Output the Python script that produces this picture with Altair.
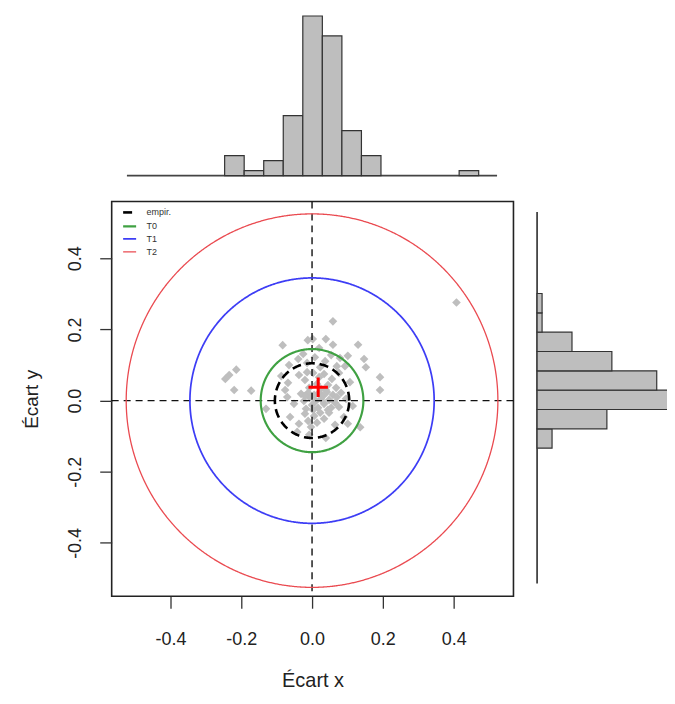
import altair as alt
import pandas as pd

FONT = "Liberation Sans"

# ---- scatter points (Écart x, Écart y) ----
pts_x = [0.408, 0.059, -0.083, 0.039, 0.059, 0.130, 0.002, -0.012, 0.020, 0.101,
         0.147, 0.152, -0.025, -0.214, -0.245, -0.234, -0.220, -0.172, -0.087, -0.076,
         0.192, 0.192, -0.130, 0.101, 0.136, 0.039, -0.008, -0.042,
         -0.065, -0.039, -0.014, 0.008, 0.023, 0.037, 0.054, 0.070, 0.079, 0.093,
         -0.068, -0.037, -0.020, -0.008, 0.003, 0.014, 0.020, -0.014, 0.025, 0.034,
         0.045, 0.056, 0.068, 0.076, 0.039, 0.107,
         -0.070, -0.051, -0.031, -0.023, -0.017, -0.011, -0.006, 0.000, 0.006, 0.011,
         0.017, 0.020, 0.025, -0.020, 0.003, 0.031, 0.034, 0.042, 0.048, 0.054,
         0.059, 0.065, 0.070, 0.076, 0.082, 0.045, 0.096, 0.115,
         -0.062, -0.037, -0.020, -0.011, -0.003, 0.006, 0.014, 0.023, 0.034, 0.048,
         0.065, 0.090]
pts_y = [0.276, 0.223, 0.156, 0.173, 0.157, 0.157, 0.173, 0.170, 0.148, 0.126,
         0.117, 0.094, 0.131, 0.087, 0.061, 0.072, 0.030, 0.028, 0.069, 0.030,
         0.066, 0.030, -0.023, -0.065, -0.075, -0.105, -0.096, -0.088,
         0.100, 0.117, 0.106, 0.122, 0.094, 0.111, 0.128, 0.097, 0.120, 0.097,
         0.050, 0.072, 0.058, 0.036, 0.078, 0.047, 0.066, 0.080, 0.033, 0.075,
         0.044, 0.061, 0.036, 0.078, 0.030, 0.052,
         0.010, -0.009, 0.019, -0.001, -0.023, 0.022, 0.008, -0.012, 0.016, -0.001,
         -0.020, 0.022, 0.005, 0.013, -0.026, 0.013, -0.009, 0.024, 0.002, -0.020,
         0.016, -0.006, 0.010, -0.018, 0.022, -0.026, 0.005, -0.015,
         -0.046, -0.065, -0.037, -0.057, -0.074, -0.043, -0.062, -0.034, -0.051, -0.034,
         -0.068, -0.046]

# ---- reference circles ----
circ_labels = ["empir.", "T0", "T1", "T2"]
circ_radius = [0.105, 0.145, 0.345, 0.525]
circ_colors = ["#000000", "#3FA142", "#3D3DF5", "#EA4A50"]
circ_dash = [[9, 5], [1, 0], [1, 0], [1, 0]]
circ_width = [2.6, 1.3, 1.3, 1.3]

# ---- marginal histograms ----
bin_w = 0.05
hx_start = [-0.25, -0.20, -0.15, -0.10, -0.05, 0.00, 0.05, 0.10, 0.35]
hx_count = [4, 1, 3, 12, 32, 28, 9, 4, 1]
hx_base = [-0.50, 0.447]
hy_start = [-0.10, -0.05, 0.00, 0.05, 0.10, 0.15, 0.20, 0.25]
hy_count = [3, 14, 29, 24, 15, 7, 1, 1]
hy_base = [-0.45, 0.511]

ticks = [-0.4, -0.2, 0.0, 0.2, 0.4]

# ---------------- tables ----------------
pts_df = pd.DataFrame({"x": pts_x, "y": pts_y})
circ_df = pd.DataFrame({"label": circ_labels, "r": circ_radius})
top_df = pd.DataFrame({"start": hx_start, "count": hx_count})
top_df["end"] = top_df["start"] + bin_w
right_df = pd.DataFrame({"start": hy_start, "count": hy_count})
right_df["end"] = right_df["start"] + bin_w

# ---------------- main panel ----------------
xs = alt.Scale(domain=[-0.566, 0.569], nice=False, zero=False)
ys = alt.Scale(domain=[-0.550, 0.560], nice=False, zero=False)
lab = "replace(format(datum.value, '.1f'), '\u2212', '-')"
x_axis = alt.Axis(values=ticks, labelExpr=lab, domain=False, grid=False,
                  tickSize=12, tickWidth=1.3, tickColor="#333333",
                  labelFont=FONT, labelFontSize=18, labelColor="#222222", labelPadding=22,
                  title="Écart x", titleFont=FONT, titleFontSize=20,
                  titleFontWeight="normal", titleColor="#222222", titlePadding=23)
y_axis = alt.Axis(values=ticks, labelExpr=lab, domain=False, grid=False,
                  tickSize=12, tickWidth=1.3, tickColor="#333333",
                  labelFont=FONT, labelFontSize=18, labelColor="#222222", labelPadding=15,
                  labelAngle=270, labelAlign="center", labelBaseline="bottom",
                  title="Écart y", titleFont=FONT, titleFontSize=19,
                  titleFontWeight="normal", titleColor="#222222", titlePadding=25)

points = alt.Chart(pts_df).mark_point(shape="diamond", filled=True, color="#BEBEBE",
                                       size=75, opacity=1).encode(
    x=alt.X("x:Q", scale=xs, axis=x_axis),
    y=alt.Y("y:Q", scale=ys, axis=y_axis),
)

vline = alt.Chart(pd.DataFrame({"x": [0.0]})).mark_rule(
    color="#111111", strokeWidth=1.4, strokeDash=[7, 5]).encode(
    x=alt.X("x:Q", scale=xs, axis=x_axis))
hline = alt.Chart(pd.DataFrame({"y": [0.0]})).mark_rule(
    color="#111111", strokeWidth=1.4, strokeDash=[7, 5]).encode(
    y=alt.Y("y:Q", scale=ys, axis=y_axis))

leg = alt.Legend(title=None, orient="none", legendX=10, legendY=196, padding=0,
                 symbolType="stroke", symbolSize=170, labelFont=FONT, labelFontSize=9,
                 labelColor="#333333", rowPadding=0, labelOffset=9)

circles = alt.Chart(circ_df).transform_calculate(
    t="sequence(0, 6.31, 0.02)"
).transform_flatten(["t"]).transform_calculate(
    x="datum.r * cos(datum.t)", y="datum.r * sin(datum.t)"
).mark_line().encode(
    x=alt.X("x:Q", scale=xs, axis=x_axis),
    y=alt.Y("y:Q", scale=ys, axis=y_axis),
    order=alt.Order("t:Q"),
    color=alt.Color("label:N", scale=alt.Scale(domain=circ_labels, range=circ_colors), legend=leg),
    strokeDash=alt.StrokeDash("label:N", scale=alt.Scale(domain=circ_labels, range=circ_dash), legend=leg),
    strokeWidth=alt.StrokeWidth("label:N", scale=alt.Scale(domain=circ_labels, range=circ_width), legend=leg),
)

cross = alt.Chart(pts_df).transform_aggregate(
    mx="mean(x)", my="mean(y)"
).mark_point(shape="M-1,0L1,0M0,-1L0,1", filled=False, color="#FF0000",
             strokeWidth=3, size=380, opacity=1).encode(
    x=alt.X("mx:Q", scale=xs, axis=x_axis),
    y=alt.Y("my:Q", scale=ys, axis=y_axis),
)

main = alt.layer(points, vline, hline, circles, cross).properties(
    width=403, height=396,
    view=alt.ViewBackground(stroke="#222222", strokeWidth=1.6))

# ---------------- top histogram ----------------
tx = alt.Scale(domain=[-0.539, 0.489], nice=False, zero=False)
ty = alt.Scale(domain=[0, 33.4], nice=False, zero=True)
top_base = alt.Chart(pd.DataFrame({"a": [hx_base[0]], "b": [hx_base[1]], "y": [0]})).mark_rule(
    color="#444444", strokeWidth=1.8).encode(
    x=alt.X("a:Q", scale=tx, axis=None), x2="b:Q",
    y=alt.Y("y:Q", scale=ty, axis=None))
top_bars = alt.Chart(top_df).mark_bar(fill="#BEBEBE", stroke="#333333", strokeWidth=1.2).encode(
    x=alt.X("start:Q", scale=tx, axis=None), x2="end:Q",
    y=alt.Y("count:Q", scale=ty, axis=None), y2=alt.datum(0))
top = alt.layer(top_base, top_bars).properties(width=403, height=167)

# ---------------- right histogram ----------------
rx = alt.Scale(domain=[-1.74, 26.06], nice=False, zero=False)
ry = alt.Scale(domain=[-0.483, 0.538], nice=False, zero=False)
right_base = alt.Chart(pd.DataFrame({"a": [hy_base[0]], "b": [hy_base[1]], "x": [0]})).mark_rule(
    color="#444444", strokeWidth=1.8).encode(
    y=alt.Y("a:Q", scale=ry, axis=None), y2="b:Q",
    x=alt.X("x:Q", scale=rx, axis=None))
right_bars = alt.Chart(right_df).mark_bar(fill="#BEBEBE", stroke="#333333", strokeWidth=1.2,
                                          clip=True).encode(
    y=alt.Y("start:Q", scale=ry, axis=None), y2="end:Q",
    x=alt.X("count:Q", scale=rx, axis=None), x2=alt.datum(0))
right = alt.layer(right_base, right_bars).properties(width=139, height=396)

chart = alt.vconcat(
    top,
    alt.hconcat(main, right, spacing=15, bounds="flush"),
    spacing=26, bounds="flush",
).properties(
    padding={"left": 14, "top": 0, "right": 0, "bottom": 0}
).configure_view(strokeWidth=0).resolve_scale(color="shared")

chart.save("out.html", embed_options={"renderer": "svg", "actions": False})
